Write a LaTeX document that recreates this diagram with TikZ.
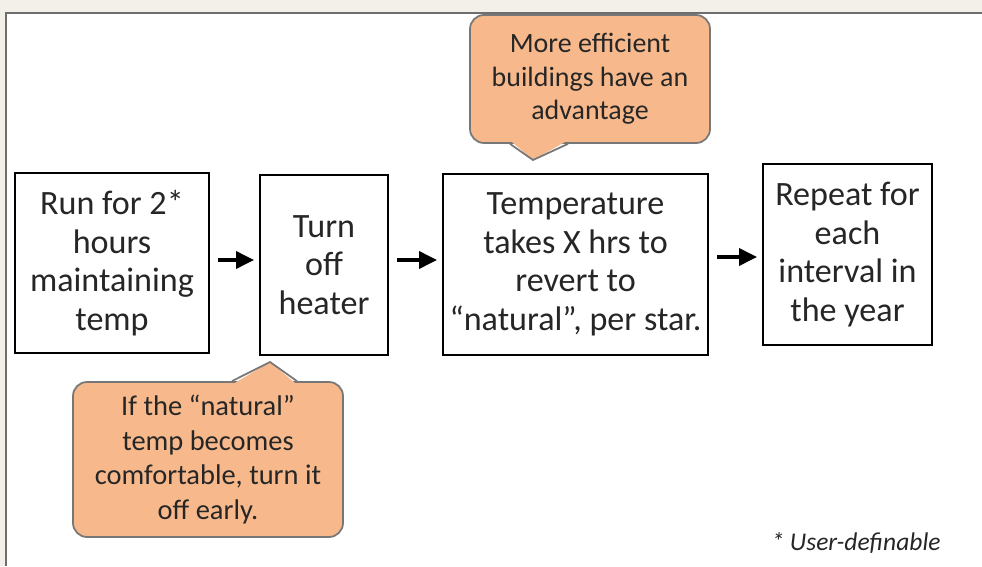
\documentclass[tikz,border=0pt]{standalone}
\usepackage{fontspec}
\setmainfont{Carlito}
\usetikzlibrary{arrows.meta}
\definecolor{pagebg}{HTML}{F3EFE9}
\definecolor{panelline}{HTML}{6E6E6E}
\definecolor{notefill}{HTML}{F7B98C}
\definecolor{noteline}{HTML}{777777}
\definecolor{textgray}{HTML}{262626}
\tikzset{
  stepbox/.style={draw=black, line width=1.1pt, fill=white, align=center,
    text=textgray, inner sep=0pt, font=\fontsize{19.4}{21.9}\selectfont},
  notebox/.style={draw=noteline, line width=1pt, fill=notefill,
    rounded corners=8pt, align=center, text=textgray, inner sep=0pt},
  flow/.style={-{Triangle[length=0.36cm,width=0.34cm]}, line width=2pt,
    shorten <=0.16cm, shorten >=0.1cm}
}
\begin{document}
\begin{tikzpicture}
        \useasboundingbox (0,0) rectangle (19.64,-11.32);
        % Background and panel
        \fill[pagebg] (0,0) rectangle (19.64,-11.32);
        \fill[white] (0.12,-0.26) rectangle (19.64,-11.32);
        \draw[panelline, line width=1.2pt] (0.12,-11.32) -- (0.12,-0.26) -- (19.64,-0.26);
        % Steps
        \node[stepbox, minimum width=3.88cm, minimum height=3.6cm] (run) at (2.24,-5.26)
            {Run for 2*\\hours\\maintaining\\temp};
        \node[stepbox, minimum width=2.56cm, minimum height=3.6cm] (off) at (6.48,-5.30)
            {Turn\\off\\heater};
        \node[stepbox, minimum width=5.3cm, minimum height=3.62cm] (revert) at (11.51,-5.29)
            {Temperature\\takes X hrs to\\revert to\\“natural”, per star.};
        \node[stepbox, minimum width=3.38cm, minimum height=3.62cm] (repeat) at (16.95,-5.09)
            {Repeat for\\each\\interval in\\the year};
        % Arrows
        \draw[flow] (run.east |- 0,-5.2) -- (off.west |- 0,-5.2);
        \draw[flow] (off.east |- 0,-5.2) -- (revert.west |- 0,-5.2);
        \draw[flow] (revert.east |- 0,-5.14) -- (repeat.west |- 0,-5.14);
        % Note above
        \node[notebox, minimum width=4.8cm, minimum height=2.56cm,
            font=\fontsize{15.9}{19.2}\selectfont] (efficient) at (11.8,-1.58)
            {More efficient\\buildings have an\\advantage};
        \coordinate (efficienttip) at (10.66,-3.2);
        \fill[notefill] ([xshift=-1.6cm,yshift=2pt]efficient.south) -- (efficienttip)
            -- ([xshift=-0.44cm,yshift=2pt]efficient.south) -- cycle;
        \draw[noteline, line width=1pt] ([xshift=-1.6cm]efficient.south) -- (efficienttip)
            -- ([xshift=-0.44cm]efficient.south);
        % Note below
        \node[notebox, minimum width=5.4cm, minimum height=3.1cm,
            font=\fontsize{16.2}{19.6}\selectfont] (early) at (4.16,-9.19)
            {If the “natural”\\temp becomes\\comfortable, turn it\\off early.};
        \coordinate (earlytip) at (5.4,-7.24);
        \fill[notefill] ([xshift=0.48cm,yshift=-2pt]early.north) -- (earlytip)
            -- ([xshift=1.78cm,yshift=-2pt]early.north) -- cycle;
        \draw[noteline, line width=1pt] ([xshift=0.48cm]early.north) -- (earlytip)
            -- ([xshift=1.78cm]early.north);
        \node[text=textgray, font=\fontsize{14.5}{17}\selectfont\itshape] (footnote) at (17.12,-10.86)
            {* User-definable};
\end{tikzpicture}
\end{document}
